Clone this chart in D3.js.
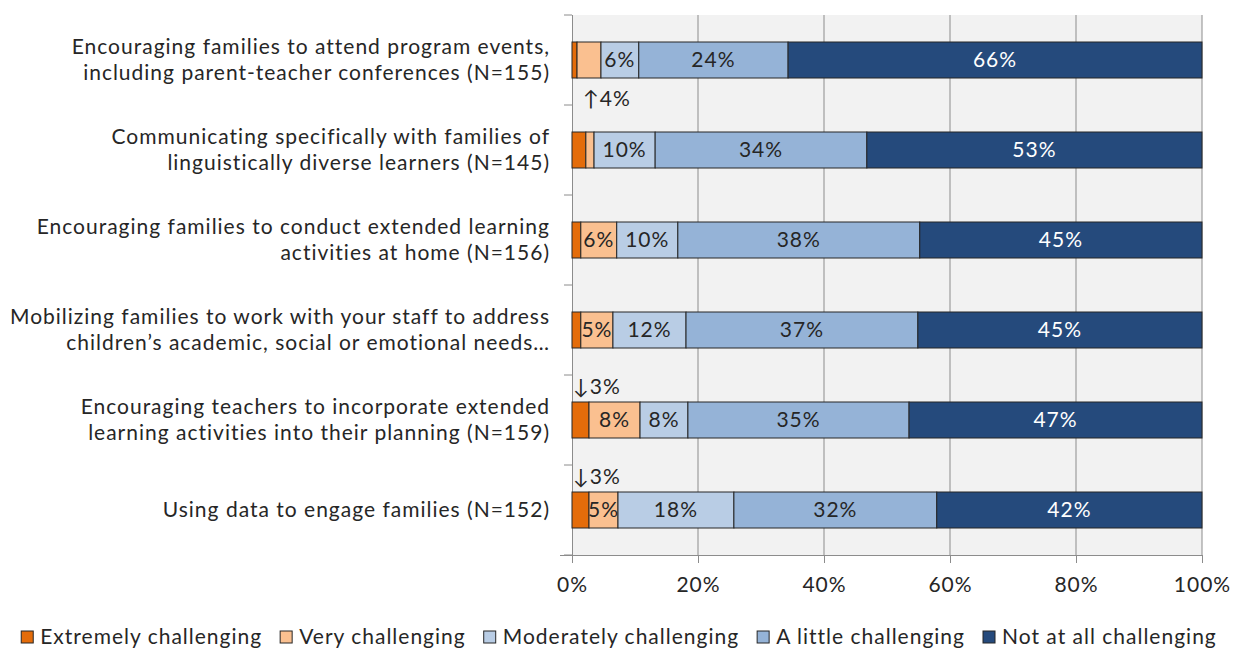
<!DOCTYPE html>
<html>
<head>
<meta charset="utf-8">
<script src="https://cdn.jsdelivr.net/npm/d3@7"></script>
<style>
  body { margin: 0; background: #fff; }
  text { font-family: Lato, "Open Sans", sans-serif; fill: #262626; letter-spacing: 1px; }
</style>
</head>
<body>
<svg id="svg1" width="1238" height="649"></svg>
<script>
// Categories, two lines each
const categories = [
  ['Encouraging families to attend program events,', 'including parent-teacher conferences (N=155)'],
  ['Communicating specifically with families of', 'linguistically diverse learners (N=145)'],
  ['Encouraging families to conduct extended learning', 'activities at home (N=156)'],
  ['Mobilizing families to work with your staff to address', 'children\u2019s academic, social or emotional needs\u2026'],
  ['Encouraging teachers to incorporate extended', 'learning activities into their planning (N=159)'],
  ['Using data to engage families (N=152)']
];

const seriesNames = ['Extremely challenging', 'Very challenging', 'Moderately challenging',
  'A little challenging', 'Not at all challenging'];
const seriesColors = ['#E46C0A', '#FAC090', '#B9CDE5', '#95B3D7', '#254A7C'];

// percent values per series (one per category)
const extremely  = [0.8, 2.2, 1.4, 1.4, 2.7, 2.7];
const very       = [3.8, 1.3, 5.7, 5.1, 8.1, 4.6];
const moderately = [6.0, 9.7, 9.7, 11.6, 7.6, 18.4];
const little     = [23.7, 33.6, 38.4, 36.8, 35.1, 32.2];
const notAtAll   = [65.7, 53.2, 44.8, 45.1, 46.5, 42.1];

// printed labels inside the bars ('' = no label)
const extremelyLabels  = ['', '', '', '', '', ''];
const veryLabels       = ['', '', '6%', '5%', '8%', '5%'];
const moderatelyLabels = ['6%', '10%', '10%', '12%', '8%', '18%'];
const littleLabels     = ['24%', '34%', '38%', '37%', '35%', '32%'];
const notAtAllLabels   = ['66%', '53%', '45%', '45%', '47%', '42%'];

// small segments labelled outside the bar with an arrow
// [category index, series index, text, side]
const callouts = [
  [0, 1, '\u21914%', 'below'],
  [4, 0, '\u21933%', 'above'],
  [5, 0, '\u21933%', 'above']
];

const xTicks = [0, 20, 40, 60, 80, 100];

const svg = d3.select('#svg1');
const margin = { top: 15, left: 572, right: 36, bottom: 94 };
const width = +svg.attr('width');
const height = +svg.attr('height');
const innerWidth = width - margin.left - margin.right;
const innerHeight = height - margin.top - margin.bottom;
const fontSize = '21px';

const values = [extremely, very, moderately, little, notAtAll];
const labels = [extremelyLabels, veryLabels, moderatelyLabels, littleLabels, notAtAllLabels];

// stacked rows
const rows = categories.map((c, i) => {
  let x0 = 0;
  return values.map((s, k) => {
    const seg = { cat: i, k: k, x0: x0, x1: x0 + s[i], label: labels[k][i] };
    x0 += s[i];
    return seg;
  });
});

const xScale = d3.scaleLinear().domain([0, 100]).range([0, innerWidth]);
const yScale = d3.scaleBand()
  .domain(d3.range(categories.length))
  .range([0, innerHeight])
  .paddingInner(0.6)
  .paddingOuter(0.3);

const g = svg.append('g')
  .attr('transform', `translate(${margin.left},${margin.top})`);

// plot background
g.append('rect')
  .attr('width', innerWidth)
  .attr('height', innerHeight)
  .attr('fill', '#F2F2F2');

// vertical gridlines
g.selectAll('.grid').data(xTicks.slice(1))
  .enter().append('line')
    .attr('x1', d => xScale(d)).attr('x2', d => xScale(d))
    .attr('y1', 0).attr('y2', innerHeight)
    .attr('stroke', '#8C8C8C').attr('stroke-width', 1);

// x axis
const xAxisG = g.append('g')
  .attr('transform', `translate(0,${innerHeight})`)
  .call(d3.axisBottom(xScale).tickValues(xTicks).tickFormat(d => d + '%').tickSize(8).tickSizeOuter(0));
xAxisG.select('.domain').attr('stroke', '#8C8C8C').attr('d', `M-12,0.5H${innerWidth}`);
xAxisG.selectAll('.tick line').attr('stroke', '#8C8C8C');
xAxisG.selectAll('.tick text')
  .attr('y', 22)
  .style('font-size', fontSize)
  .style('font-family', 'Lato, sans-serif')
  .attr('fill', '#262626');

// y axis: line plus ticks between categories
const yBreaks = d3.range(categories.length + 1).map(i => i * innerHeight / categories.length);
g.append('line')
  .attr('x1', 0.5).attr('x2', 0.5).attr('y1', 0).attr('y2', innerHeight + 8)
  .attr('stroke', '#8C8C8C');
g.selectAll('.ytick').data(yBreaks)
  .enter().append('line')
    .attr('x1', -8).attr('x2', 0)
    .attr('y1', d => d).attr('y2', d => d)
    .attr('stroke', '#8C8C8C');

// category labels
const catG = g.selectAll('.cat').data(categories)
  .enter().append('text')
    .attr('text-anchor', 'end')
    .attr('x', -22)
    .attr('y', (d, i) => yScale(i) + yScale.bandwidth() / 2)
    .style('font-size', fontSize);
catG.selectAll('tspan').data(d => d.map((t, j) => ({ t, j, n: d.length })))
  .enter().append('tspan')
    .attr('x', -22)
    .attr('dy', d => d.j === 0 ? (d.n === 1 ? '0.35em' : '-0.28em') : '1.24em')
    .text(d => d.t);

// bars
const rowG = g.selectAll('.row').data(rows)
  .enter().append('g')
    .attr('transform', (d, i) => `translate(0,${yScale(i)})`);

rowG.selectAll('rect').data(d => d)
  .enter().append('rect')
    .attr('x', d => xScale(d.x0))
    .attr('width', d => xScale(d.x1) - xScale(d.x0))
    .attr('height', yScale.bandwidth())
    .attr('fill', d => seriesColors[d.k])
    .attr('stroke', '#262626')
    .attr('stroke-width', 1);

rowG.selectAll('.lbl').data(d => d.filter(s => s.label !== ''))
  .enter().append('text')
    .attr('x', d => xScale((d.x0 + d.x1) / 2))
    .attr('y', yScale.bandwidth() / 2)
    .attr('dy', '0.35em')
    .attr('text-anchor', 'middle')
    .style('font-size', fontSize)
    .style('fill', d => d.k === 4 ? '#FFFFFF' : '#262626')
    .text(d => d.label);

// outside callouts for tiny segments
g.selectAll('.callout').data(callouts)
  .enter().append('text')
    .attr('x', d => xScale(rows[d[0]][d[1]].x0) + (d[3] === 'below' ? 6 : 1))
    .attr('y', d => d[3] === 'below'
      ? yScale(d[0]) + yScale.bandwidth() + 21
      : yScale(d[0]) - 15)
    .attr('dy', '0.35em')
    .style('font-size', fontSize)
    .text(d => d[2]);

// legend
const legend = svg.append('g');
const items = legend.selectAll('g').data(seriesNames)
  .enter().append('g');
items.append('rect')
  .attr('width', 12).attr('height', 12)
  .attr('y', -12)
  .attr('fill', (d, i) => seriesColors[i])
  .attr('stroke', '#262626');
items.append('text')
  .attr('x', 19)
  .attr('y', -6)
  .attr('dy', '0.35em')
  .style('font-size', fontSize)
  .text(d => d);

let lx = 0;
const gap = 18;
items.each(function() {
  const w = 19 + this.querySelector('text').getComputedTextLength();
  d3.select(this).attr('transform', `translate(${lx},0)`);
  lx += w + gap;
});
const totalW = lx - gap;
legend.attr('transform', `translate(${(width - totalW) / 2},${height - 6})`);
</script>
</body>
</html>
